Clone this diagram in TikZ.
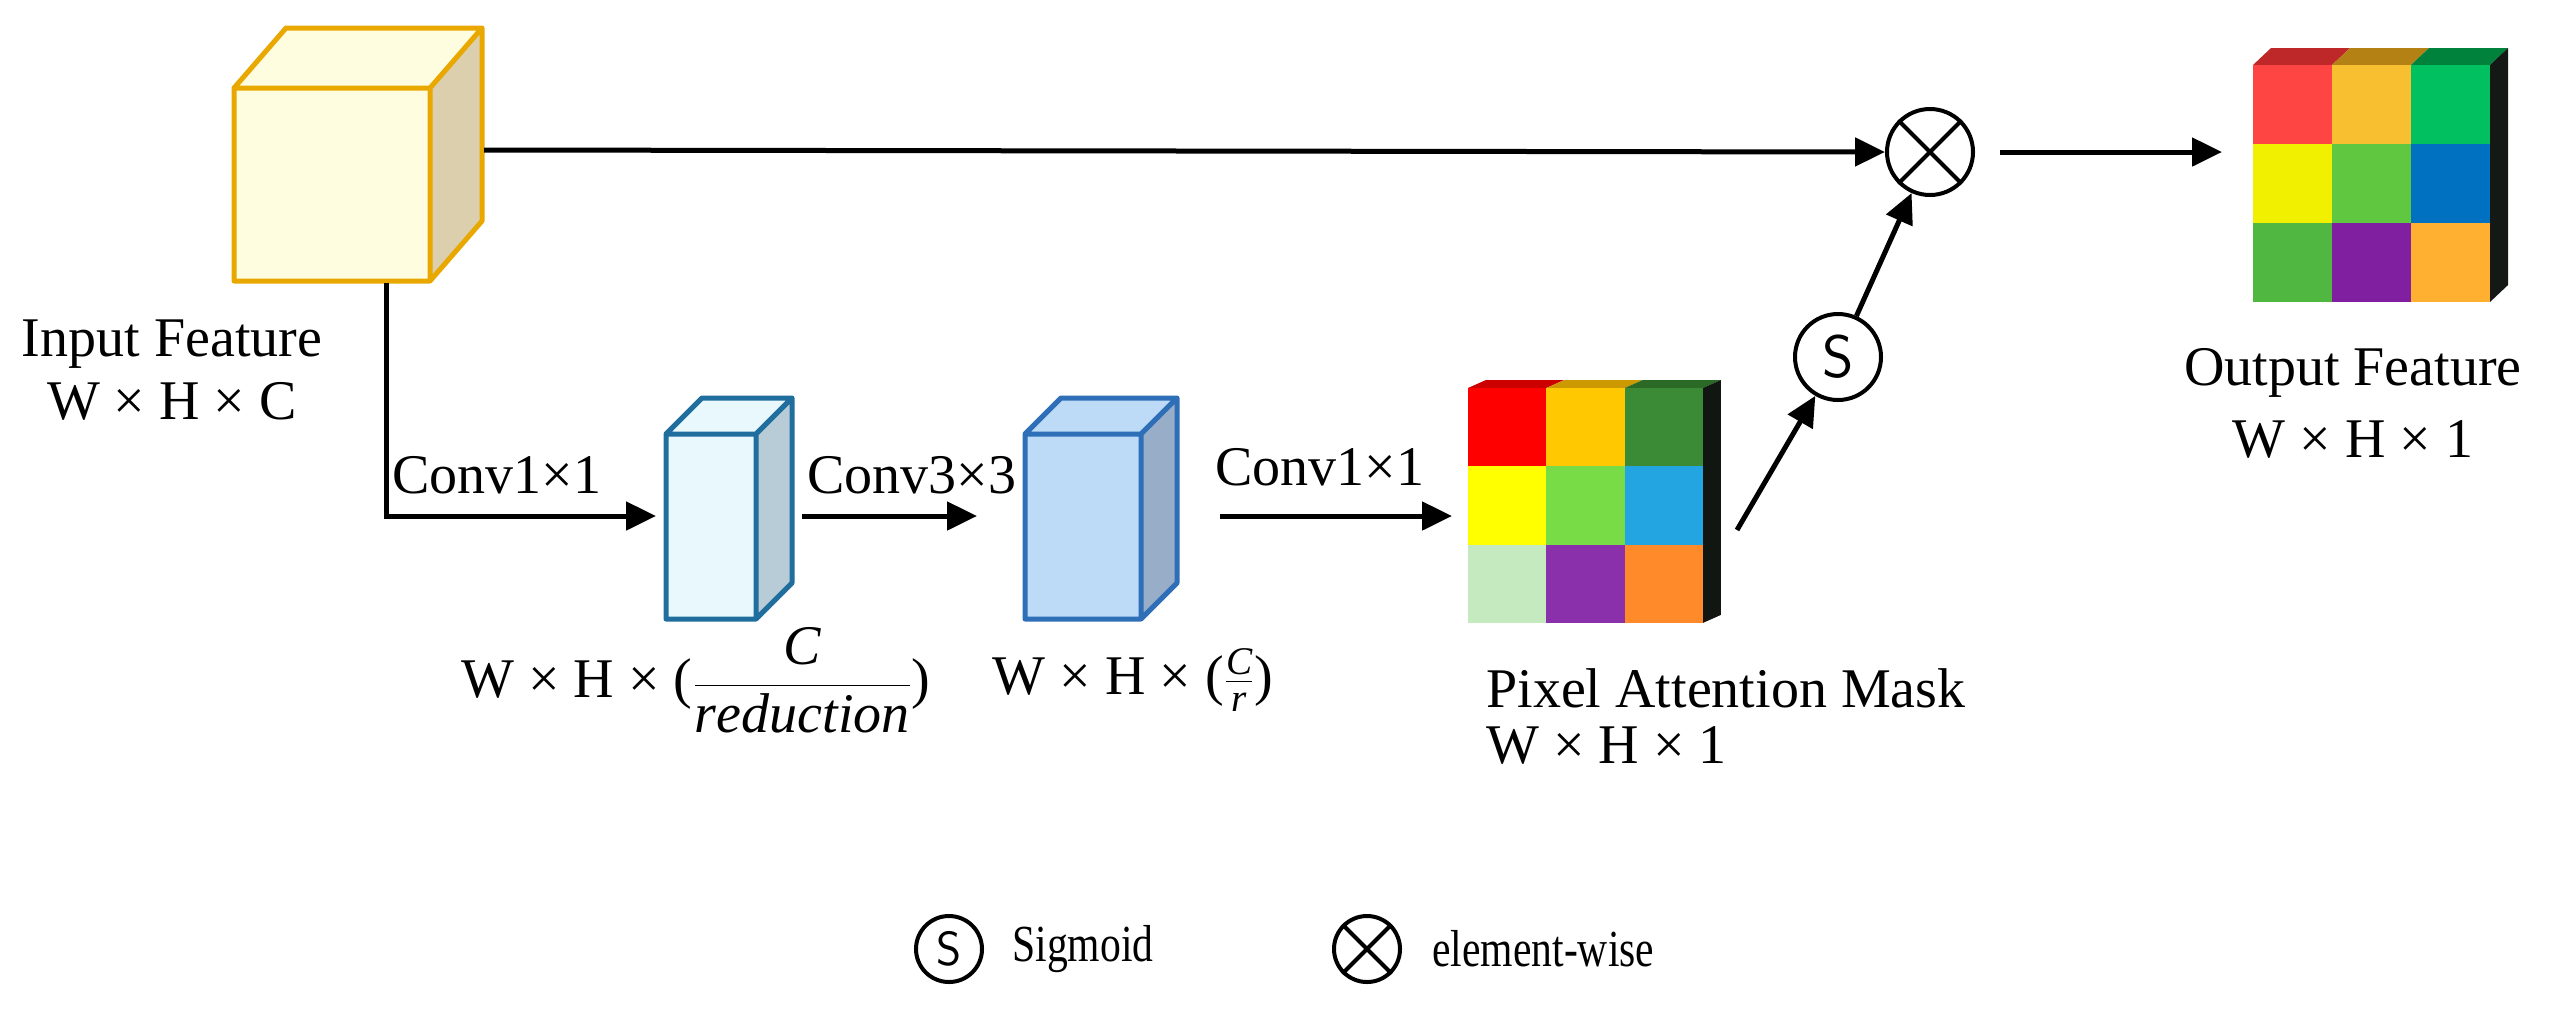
\documentclass[tikz,border=0pt]{standalone}
\usepackage{fontspec}
\setmainfont{Liberation Serif}
\newfontfamily\condf{Liberation Serif}[FakeStretch=0.8]
\usetikzlibrary{arrows.meta}
\definecolor{cyel}{HTML}{FFFDE0}\definecolor{cyside}{HTML}{DCCFAE}\definecolor{cyedge}{HTML}{E8A800}
\definecolor{bA}{HTML}{E8F8FC}\definecolor{bAs}{HTML}{B8CCD8}\definecolor{bAe}{HTML}{1F6E9E}
\definecolor{bB}{HTML}{BDDAF7}\definecolor{bBs}{HTML}{98AEC8}\definecolor{bBe}{HTML}{2E6FB8}
\definecolor{mA}{HTML}{FF0000}\definecolor{mB}{HTML}{FFC800}\definecolor{mC}{HTML}{3A8A36}
\definecolor{mD}{HTML}{FFFF00}\definecolor{mE}{HTML}{78DC46}\definecolor{mF}{HTML}{22A5E0}
\definecolor{mG}{HTML}{C5EAC0}\definecolor{mH}{HTML}{8A30AA}\definecolor{mI}{HTML}{FF8A2A}
\definecolor{mtA}{HTML}{CC0000}\definecolor{mtB}{HTML}{CC9A00}\definecolor{mtC}{HTML}{2A6A26}\definecolor{mS}{HTML}{121612}
\definecolor{oA}{HTML}{FF4444}\definecolor{oB}{HTML}{F8C030}\definecolor{oC}{HTML}{00C060}
\definecolor{oD}{HTML}{F0F000}\definecolor{oE}{HTML}{60C840}\definecolor{oF}{HTML}{0070C0}
\definecolor{oG}{HTML}{50B840}\definecolor{oH}{HTML}{8020A0}\definecolor{oI}{HTML}{FFB030}
\definecolor{otA}{HTML}{BE2828}\definecolor{otB}{HTML}{B48214}\definecolor{otC}{HTML}{00823C}\definecolor{oS}{HTML}{141916}
\tikzset{
 conn/.style={line width=2.5pt,-{Triangle[length=15pt,width=14pt]}},
 lbl/.style={font=\fontsize{28}{32}\selectfont,inner sep=0pt},
 op/.style={circle,draw,line width=2pt,minimum size=43pt,inner sep=0pt},
 lop/.style={circle,draw,line width=2pt,minimum size=33pt,inner sep=0pt},
 leg/.style={font=\condf\fontsize{26}{30}\selectfont,inner sep=0pt,anchor=west}
}
\newcommand{\mybox}[9]{%
 \fill[#7] (#2,#3)--(#2+#5,#3-#6)--(#2+#5,#4-#6)--(#2,#4)--cycle;
 \fill[#8] (#1,#3)--(#1+#5,#3-#6)--(#2+#5,#3-#6)--(#2,#3)--cycle;
 \fill[#8] (#1,#3) rectangle (#2,#4);
 \draw[#9,line width=2.5pt,line join=round] (#1,#3) rectangle (#2,#4) (#1,#3)--(#1+#5,#3-#6)--(#2+#5,#3-#6)--(#2+#5,#4-#6)--(#2,#4) (#2,#3)--(#2+#5,#3-#6);}
\newcommand{\gridcube}[8]{%
 \foreach \c [count=\i from 0] in {#6}{\fill[\c] (#1+\i*#3,#2)--(#1+\i*#3+#4,#2-#5)--(#1+\i*#3+#3+#4,#2-#5)--(#1+\i*#3+#3,#2)--cycle;}
 \fill[#8] (#1+3*#3,#2)--(#1+3*#3+#4,#2-#5)--(#1+3*#3+#4,#2+3*#3-#5)--(#1+3*#3,#2+3*#3)--cycle;
 \foreach \c [count=\k from 0] in {#7}{\pgfmathtruncatemacro\ci{mod(\k,3)}\pgfmathtruncatemacro\ri{div(\k,3)}
  \fill[\c] (#1+\ci*#3,#2+\ri*#3) rectangle +(#3,#3);}}
\begin{document}
\begin{tikzpicture}[x=0.5pt,y=-0.5pt]
\useasboundingbox (0,0) rectangle (2570,1009);
\mybox{234}{430}{88}{281}{52}{60}{cyside}{cyel}{cyedge}
\coordinate (inR) at (484,150);
\coordinate (inB) at (386,283);
\node[lbl] (inlab) at (172,344) {Input Feature};
\node[lbl] (indim) at (172,401) {W × H × C};
\mybox{666}{756}{434}{619}{36}{36}{bAs}{bA}{bAe}
\coordinate (b1W) at (656,516); \coordinate (b1E) at (802,516);
\mybox{1025}{1141}{434}{619}{36}{36}{bBs}{bB}{bBe}
\coordinate (b2W) at (977,516); \coordinate (b2E) at (1220,516);
\gridcube{1468}{388}{78.3}{18}{8}{mtA,mtB,mtC}{mA,mB,mC,mD,mE,mF,mG,mH,mI}{mS}
\coordinate (maskW) at (1452,516); \coordinate (maskE) at (1737,530);
\node[lbl,anchor=west] (mlab) at (1486,688) {Pixel Attention Mask};
\node[lbl,anchor=west] (mdim) at (1486,745) {W × H × 1};
\gridcube{2253}{65}{79}{18}{17}{otA,otB,otC}{oA,oB,oC,oD,oE,oF,oG,oH,oI}{oS}
\coordinate (outW) at (2222,152);
\node[lbl] (olab) at (2353,373) {Output Feature};
\node[lbl] (odim) at (2353,439) {W × H × 1};
\node[op] (mul) at (1930,152) {};
\draw[line width=2pt] (mul.north east)--(mul.south west) (mul.north west)--(mul.south east);
\node[op,font=\sffamily\fontsize{30}{32}\selectfont] (sig) at (1838,357) {S};
\coordinate (mulE) at (2000,152);
\draw[conn] (inR)--(mul.west);
\draw[conn] (mulE)--(outW);
\draw[conn] (inB)|-(b1W);
\draw[conn] (b1E)--(b2W);
\draw[conn] (b2E)--(maskW);
\draw[conn] (maskE)--(sig);
\draw[conn] (sig)--(mul);
\node[lbl,anchor=west] (c1) at (392,475) {Conv1×1};
\node[lbl] (c2) at (912,475) {Conv3×3};
\node[lbl] (c3) at (1320,467) {Conv1×1};
\node[lbl] (d1) at (696,680) {W × H × ($\displaystyle\frac{\mathit{C}}{\mathit{reduction}}$)};
\node[lbl] (d2) at (1133,680) {W × H × ($\frac{\mathit{C}}{\mathit{r}}$)};
\node[lop,font=\sffamily\fontsize{24}{26}\selectfont] (lsig) at (949,949) {S};
\node[leg] (lsigt) at (1012,949) {Sigmoid};
\node[lop] (lmul) at (1367,949) {};
\draw[line width=2pt] (lmul.north east)--(lmul.south west) (lmul.north west)--(lmul.south east);
\node[leg] (lmult) at (1432,949) {element-wise};
\end{tikzpicture}
\end{document}
